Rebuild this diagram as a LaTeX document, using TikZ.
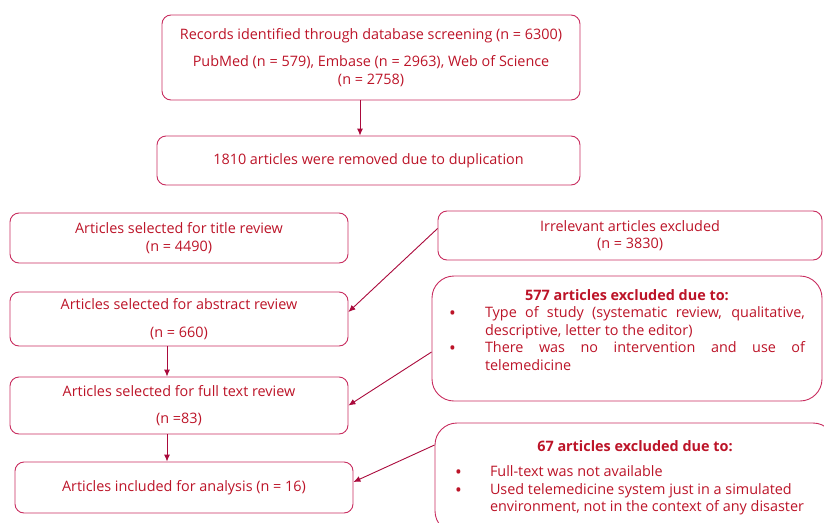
\documentclass[tikz,border=0pt]{standalone}
\usepackage{fontspec}
\setmainfont{Open Sans}
\usetikzlibrary{arrows.meta}
\definecolor{TxtClr}{RGB}{188,20,40}
\definecolor{BoxClr}{RGB}{200,45,95}
\definecolor{ArrClr}{RGB}{170,10,60}
\newcommand{\bulline}[2][36pt]{\par\noindent\hangindent=#1\hangafter=1%
  \makebox[#1][l]{\raisebox{-1.6pt}[0pt][0pt]{\fontsize{18}{17.5}\selectfont\textbullet}}#2\par}

\begin{document}
\begin{tikzpicture}[x=1pt,y=-1pt,
  box/.style={draw=BoxClr,line width=0.9pt,rounded corners=9pt,inner sep=0pt,
    align=center,text=TxtClr,font=\fontsize{14.4}{17.5}\selectfont},
  arr/.style={draw=ArrClr,line width=0.9pt,-{Latex[length=7pt,width=6pt]}}]
\useasboundingbox (0,0) rectangle (824,522);
\clip (0,0) rectangle (824,522);

\node[box,minimum width=418pt,minimum height=85pt] (rec) at (371,57.5)
  {Records identified through database screening (n = 6300)\\[10pt]
   PubMed (n = 579), Embase (n = 2963), Web of Science\\(n = 2758)};
\node[box,minimum width=423pt,minimum height=49pt] (dup) at (368.5,160.5)
  {1810 articles were removed due to duplication};
\node[box,minimum width=338pt,minimum height=50pt] (title) at (179,238)
  {Articles selected for title review\\(n = 4490)};
\node[box,minimum width=384pt,minimum height=49pt] (irr) at (630,235.5)
  {Irrelevant articles excluded\\(n = 3830)};
\node[box,minimum width=338pt,minimum height=54pt] (abst) at (179,319)
  {Articles selected for abstract review\\[10pt](n = 660)};
\node[box,rounded corners=22pt,minimum width=390pt,minimum height=125pt] (excl1) at (627,338.5)
  {\parbox{356pt}{\hyphenpenalty=10000{\centering\textbf{577 articles excluded due to:}\par}
   \bulline{Type of study (systematic review, qualitative, descriptive, letter to the editor)}
   \bulline{There was no intervention and use of telemedicine}
   \vspace{17pt}}};
\node[box,minimum width=338pt,minimum height=57pt] (full) at (179,405.5)
  {Articles selected for full text review\\[10pt](n =83)};
\node[box,minimum width=338pt,minimum height=51pt] (incl) at (184,487.5)
  {Articles included for analysis (n = 16)};
\node[box,rounded corners=22pt,minimum width=400pt,minimum height=110pt] (excl2) at (635,478)
  {\parbox{360pt}{\hyphenpenalty=10000{\centering\textbf{67 articles excluded due to:}\par}\vspace{8pt}
   \raggedright
   \bulline[35pt]{Full-text was not available}
   \bulline[35pt]{Used telemedicine system just in a simulated environment, not in the context of any disaster}}};

\draw[arr] ([xshift=-11pt]rec.south) -- ([xshift=-11pt]rec.south |- dup.north);
\draw[arr] ([yshift=7pt]irr.west) -- ([yshift=7pt]abst.east);
\draw[arr] ([yshift=-13.5pt]excl1.west) -- (full.east);
\draw[arr] ([yshift=33pt]excl2.west) -- ([yshift=5.5pt]incl.east);
\draw[arr] ([xshift=-12pt]abst.south) -- ([xshift=-12pt]full.north);
\draw[arr] ([xshift=-12pt]full.south) -- ([xshift=-17pt]incl.north);
\end{tikzpicture}
\end{document}
